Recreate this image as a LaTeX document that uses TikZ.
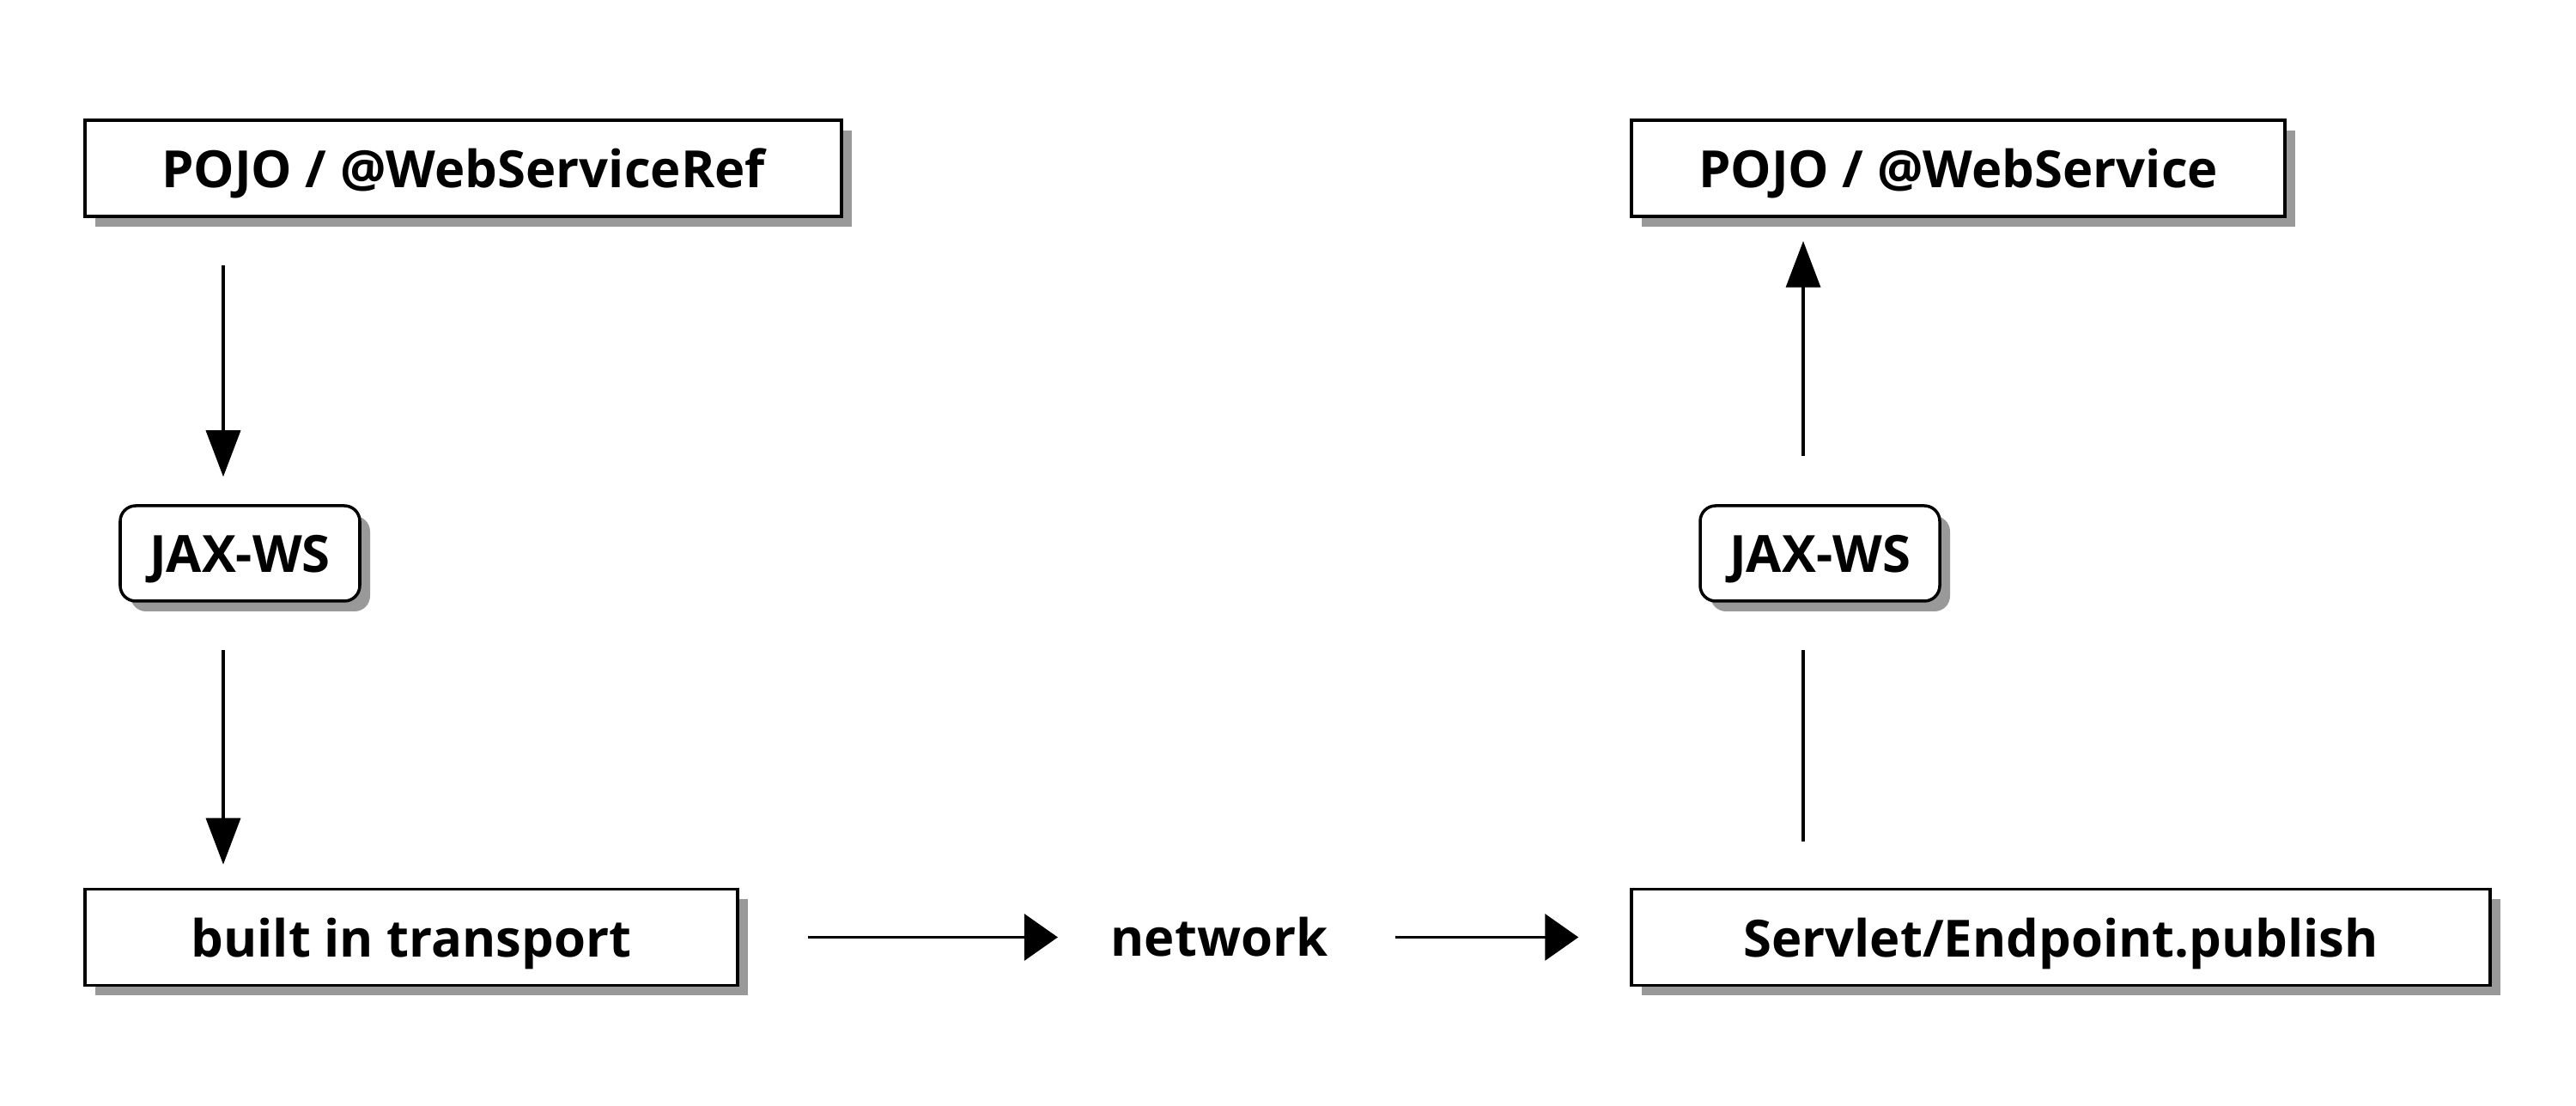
\documentclass[tikz,border=0pt]{standalone}
\usepackage{fontspec}
\setmainfont{Open Sans}
\usetikzlibrary{arrows.meta, shadows}

\begin{document}
\begin{tikzpicture}[
  block/.style={draw, line width=1pt, fill=white, inner sep=0pt,
    text depth=0pt, minimum height=1.12cm,
    font=\bfseries\fontsize{17}{20}\selectfont,
    drop shadow={shadow xshift=0.12cm, shadow yshift=-0.12cm,
      fill=black!40, opacity=1}},
  stack/.style={block, rounded corners=0.18cm, minimum height=1.11cm,
    minimum width=2.79cm},
  plain/.style={inner sep=0pt, font=\bfseries\fontsize{17}{20}\selectfont},
  vflow/.style={line width=1pt, -{Triangle[length=0.54cm, width=0.40cm]}},
  hflow/.style={line width=1pt, -{Triangle[length=0.39cm, width=0.54cm]}},
  wire/.style={line width=1pt}
]
\useasboundingbox (0,0) rectangle (30,12.88);

% -------------------------
% BOXES
% -------------------------

\node[block, minimum width=8.81cm] (pojoref) at (5.395,10.92) {POJO / @WebServiceRef};
\node[block, minimum width=7.61cm] (pojows) at (22.805,10.92) {POJO / @WebService};

\node[stack] (jaxl) at (2.795,6.435) {JAX-WS};
\node[stack] (jaxr) at (21.195,6.435) {JAX-WS};

\node[block, minimum width=7.60cm] (transport) at (4.79,1.965) {built in transport};
\node[block, minimum width=10.0cm] (servlet) at (24.0,1.965) {Servlet/Endpoint.publish};

\node[plain] (network) at (14.2,1.965) {network};

% arrow columns (slightly left of the JAX-WS boxes)
\coordinate (colL) at (2.60,0);
\coordinate (colR) at (21.00,0);

% -------------------------
% CLIENT SIDE (down)
% -------------------------

\draw[vflow, shorten <=0.55cm, shorten >=0.32cm]
  (pojoref.south -| colL) -- (jaxl.north -| colL);
\draw[vflow, shorten <=0.55cm, shorten >=0.27cm]
  (jaxl.south -| colL) -- (transport.north -| colL);

% -------------------------
% NETWORK (across)
% -------------------------

\draw[hflow, shorten <=0.80cm, shorten >=0.61cm] (transport) -- (network);
\draw[hflow, shorten <=0.78cm, shorten >=0.60cm] (network) -- (servlet);

% -------------------------
% SERVER SIDE (up)
% -------------------------

\draw[wire, shorten <=0.54cm, shorten >=0.55cm]
  (servlet.north -| colR) -- (jaxr.south -| colR);
\draw[vflow, shorten <=0.56cm, shorten >=0.27cm]
  (jaxr.north -| colR) -- (pojows.south -| colR);

\end{tikzpicture}
\end{document}
